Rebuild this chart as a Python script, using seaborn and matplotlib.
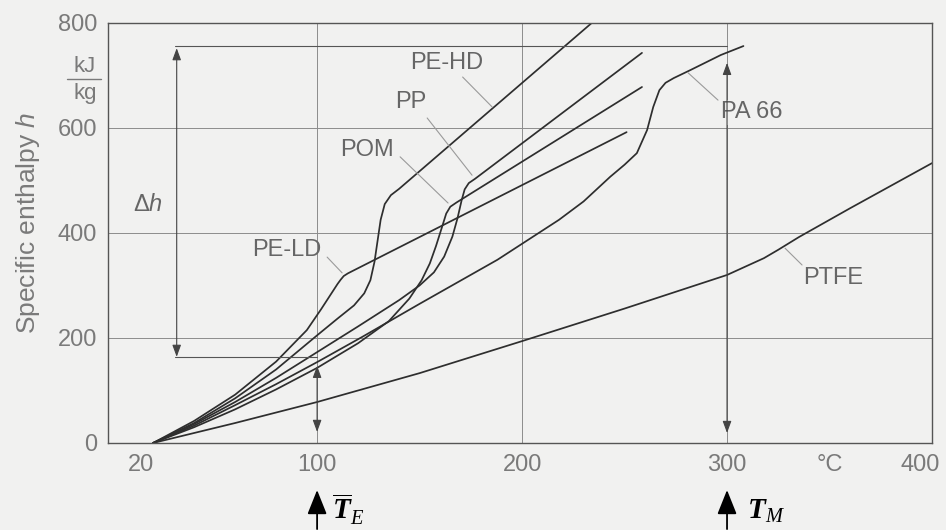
import numpy as np
import pandas as pd
import matplotlib
matplotlib.use("Agg")
import matplotlib.pyplot as plt
import matplotlib.transforms as mtransforms
import seaborn as sns
from matplotlib.lines import Line2D

# ---------------- data ----------------
T_PE_HD = [20, 40, 60, 80, 100, 110, 118, 123, 126, 128, 129.5, 131, 133, 136, 140, 234]
h_PE_HD = [0, 38, 85, 140, 205, 237, 262, 285, 310, 345, 385, 425, 455, 472, 484, 800]

T_PP = [20, 40, 60, 80, 100, 120, 140, 150, 157, 162, 166, 168.5, 170.5, 172, 174, 177, 258.5]
h_PP = [0, 36, 78, 124, 173, 222, 272, 300, 325, 355, 393, 428, 462, 483, 495, 503, 743]

T_POM = [20, 40, 60, 80, 100, 120, 135, 145, 151, 155, 158, 161, 163, 165, 168, 258.5]
h_POM = [0, 30, 64, 102, 143, 190, 232, 275, 310, 342, 375, 412, 437, 450, 458, 678]

T_PE_LD = [20, 40, 60, 80, 95, 102, 107, 110, 111.5, 113, 115, 117, 251]
h_PE_LD = [0, 42, 92, 155, 215, 255, 285, 303, 311, 318, 323, 327, 592]

T_PA66 = [20, 40, 60, 80, 100, 122, 150, 188, 218, 230, 243, 250, 256, 261, 264, 267, 270, 274, 282, 297, 308]
h_PA66 = [0, 33, 72, 112, 154, 202, 265, 349, 425, 460, 507, 530, 552, 596, 640, 672, 686, 695, 710, 739, 756]

T_PTFE = [20, 60, 100, 150, 200, 250, 300, 318, 325, 330, 335, 360, 400]
h_PTFE = [0, 38, 78, 133, 194, 256, 320, 352, 368, 380, 392, 447, 533]

materials = ["PE-HD", "PP", "POM", "PE-LD", "PA 66", "PTFE"]
series_T = [T_PE_HD, T_PP, T_POM, T_PE_LD, T_PA66, T_PTFE]
series_h = [h_PE_HD, h_PP, h_POM, h_PE_LD, h_PA66, h_PTFE]

xtick_vals = [20, 100, 200, 300, 350, 400]
xtick_labels = ["20", "100", "200", "300", "°C", "400"]
ytick_vals = [0, 200, 400, 600, 800]
ytick_labels = ["0", "200", "400", "600", "800"]
xgrid_vals = [100, 200, 300]
ygrid_vals = [200, 400, 600]

# label positions (text centre) and leader lines (start -> end on curve)
label_pos = {"PE-HD": (163.4, 724), "PP": (145.9, 650), "POM": (124.4, 558),
             "PE-LD": (85.4, 368), "PA 66": (312.2, 630), "PTFE": (351.7, 314)}
leaders = {"PE-HD": ((171, 697), (185.4, 640)),
           "PP": ((153.7, 619), (175.6, 510)),
           "POM": ((140.5, 545), (163.9, 457)),
           "PE-LD": ((104.9, 354), (112.2, 324)),
           "PA 66": ((295.6, 653), (281, 705)),
           "PTFE": ((336.6, 339), (328.3, 371))}

dh_x, dh_low, dh_high = 31.5, 163, 757
TE_x, TM_x = 100, 300

# ---------------- build table ----------------
frames = [pd.DataFrame({"material": m, "T": t, "h": h})
          for m, t, h in zip(materials, series_T, series_h)]
df = pd.concat(frames, ignore_index=True)

# ---------------- style ----------------
sns.set_theme(style="white")
bg = "#f1f1f0"
plt.rcParams["font.family"] = ["Liberation Sans", "DejaVu Sans"]
plt.rcParams["mathtext.fontset"] = "custom"
plt.rcParams["mathtext.rm"] = "Liberation Sans"
plt.rcParams["mathtext.it"] = "Liberation Sans:italic"
plt.rcParams["mathtext.bf"] = "Liberation Serif:italic:bold"
plt.rcParams["mathtext.sf"] = "Liberation Serif:italic"

fig = plt.figure(figsize=(9.46, 5.30), dpi=100, facecolor=bg)
ax = fig.add_axes([0.1142, 0.1642, 0.8710, 0.7925], facecolor=bg)

# grid lines (drawn explicitly, only at inner values)
for xv in xgrid_vals:
    ax.axvline(xv, color="#8c8c8c", lw=0.7, zorder=0.5)
for yv in ygrid_vals:
    ax.axhline(yv, color="#8c8c8c", lw=0.7, zorder=0.5)

sns.lineplot(data=df, x="T", y="h", units="material", estimator=None, sort=False,
             color="#2e2e2e", linewidth=1.25, ax=ax, legend=False)

ax.set_xlim(-2, 400)
ax.set_ylim(0, 800)
ax.set_xticks(xtick_vals)
ax.set_xticklabels(xtick_labels)
ax.set_yticks(ytick_vals)
ax.set_yticklabels(ytick_labels)
ax.grid(False)
ax.tick_params(which="both", length=0)
ax.tick_params(axis="both", which="major", labelsize=17, labelcolor="#7a7a7a")
ax.tick_params(axis="x", pad=8)
ax.tick_params(axis="y", pad=8)
for s in ax.spines.values():
    s.set_color("#555555")
    s.set_linewidth(1.0)

# nudge the first and last x tick labels like in the reference
xlabels = ax.get_xticklabels()
xlabels[0].set_transform(xlabels[0].get_transform() +
                         mtransforms.ScaledTranslation(-12 / 100, 0, fig.dpi_scale_trans))
xlabels[-1].set_transform(xlabels[-1].get_transform() +
                          mtransforms.ScaledTranslation(-12 / 100, 0, fig.dpi_scale_trans))

ax.set_xlabel("")
ax.set_ylabel("Specific enthalpy $h$", fontsize=19, color="#7a7a7a")
ax.yaxis.set_label_coords(-0.08, 0.524)

# unit kJ/kg
fig.text(85 / 946, 1 - 66 / 530, "kJ", fontsize=16, color="#7a7a7a", ha="center", va="center")
fig.text(85 / 946, 1 - 93 / 530, "kg", fontsize=16, color="#7a7a7a", ha="center", va="center")
fig.add_artist(Line2D([67 / 946, 101 / 946], [1 - 79 / 530, 1 - 79 / 530],
                      transform=fig.transFigure, color="#7a7a7a", lw=1.0))

# curve labels and leaders
for m in materials:
    x, y = label_pos[m]
    kw = {}
    if m == "PA 66":
        kw["bbox"] = dict(facecolor=bg, edgecolor="none", pad=1)
    ax.text(x, y, m, fontsize=17, color="#666666", ha="center", va="center", **kw)
    (x0, y0), (x1, y1) = leaders[m]
    ax.annotate("", xy=(x1, y1), xytext=(x0, y0),
                arrowprops=dict(arrowstyle="-", color="#9a9a9a", lw=0.8,
                                shrinkA=0, shrinkB=0))

# Delta h construction
line_kw = dict(color="#555555", lw=0.8)
ax.plot([dh_x - 1, TM_x], [dh_high, dh_high], **line_kw)
ax.plot([dh_x - 1, TE_x], [dh_low, dh_low], **line_kw)
arr = dict(arrowstyle="<|-|>,head_length=0.6,head_width=0.22", color="#444444",
           lw=0.8, shrinkA=0, shrinkB=0, mutation_scale=12)
ax.annotate("", xy=(dh_x, dh_high - 5), xytext=(dh_x, dh_low + 1), arrowprops=arr)
ax.annotate("", xy=(TE_x, 147), xytext=(TE_x, 21), arrowprops=arr)
ax.annotate("", xy=(TM_x, 724), xytext=(TM_x, 19), arrowprops=arr)
ax.text(17.6, 453, "Δ$h$", fontsize=17, color="#666666", ha="center", va="center")

# bottom markers
xtr = ax.get_xaxis_transform()
big = dict(arrowstyle="-|>,head_length=0.75,head_width=0.3", color="black",
           lw=1.3, shrinkA=0, shrinkB=0, mutation_scale=20)
for xv in (TE_x, TM_x):
    ax.annotate("", xy=(xv, -0.112), xytext=(xv, -0.205), xycoords=xtr,
                textcoords=xtr, arrowprops=big, annotation_clip=False)
ax.text(115, -0.158, r"$\overline{\mathbf{T}}_{\mathsf{E}}$", transform=xtr,
        fontsize=21, color="black", ha="center", va="center", clip_on=False)
ax.text(319, -0.163, r"$\mathbf{T}_{\mathsf{M}}$", transform=xtr,
        fontsize=21, color="black", ha="center", va="center", clip_on=False)

fig.savefig("out.png", dpi=100, facecolor=bg)
